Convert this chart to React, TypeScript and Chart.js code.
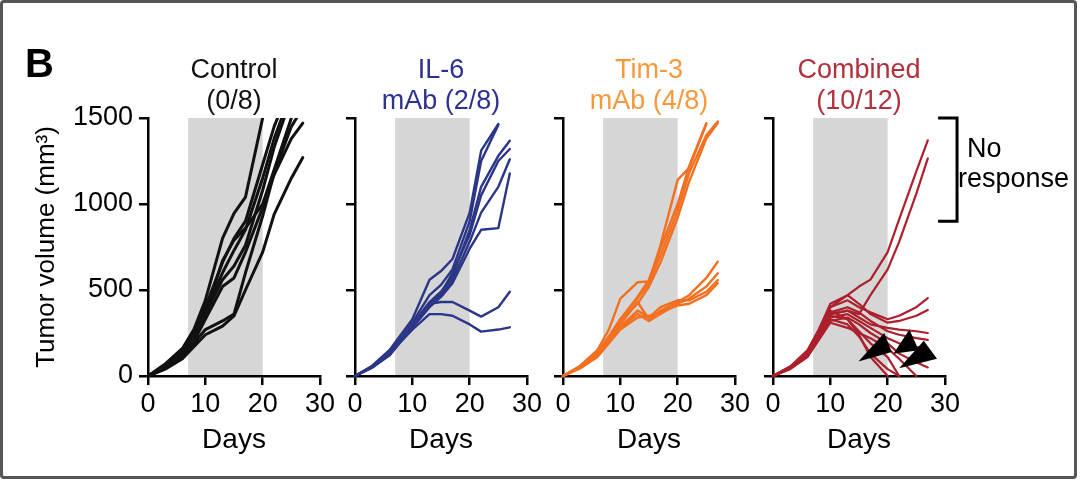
import React, { useEffect, useRef } from "react";
import { Chart, registerables } from "chart.js";

Chart.register(...registerables);

// ---------- data ----------
const DAYS = [0, 3, 6, 8, 10, 13, 15, 17, 20, 22, 25, 27];
const X_TICKS = [0, 10, 20, 30];
const Y_TICKS = [0, 500, 1000, 1500];
const TREATMENT_WINDOW = [7, 20];

const CONTROL_SERIES: (number | null)[][] = [
  [0, 70, 160, 270, 440, 800, 945, 1040, 1500, null, null, null],
  [0, 60, 150, 250, 400, 660, 800, 900, 1230, 1450, 1700, null],
  [0, 55, 140, 240, 380, 600, 730, 850, 1150, 1380, 1650, null],
  [0, 50, 130, 230, 360, 560, 640, 760, 1080, 1330, 1620, null],
  [0, 50, 140, 240, 370, 670, 790, 860, 1000, 1200, 1500, null],
  [0, 45, 120, 200, 330, 520, 570, 720, 980, 1170, 1380, 1470],
  [0, 40, 100, 170, 240, 290, 350, 500, 720, 940, 1150, 1270],
  [0, 45, 115, 190, 270, 320, 360, 600, 930, 1180, 1450, 1560],
];

const IL6_SERIES: (number | null)[][] = [
  [0, 60, 150, 240, 330, 560, 610, 680, 950, 1310, 1465, null],
  [0, 55, 140, 220, 310, 470, 530, 620, 900, 1250, 1460, null],
  [0, 50, 125, 205, 300, 430, 490, 580, 850, 1100, 1280, 1368],
  [0, 55, 130, 210, 290, 410, 470, 560, 780, 950, 1100, 1260],
  [0, 50, 120, 200, 280, 400, 460, 540, 740, 850, 860, 1178],
  [0, 50, 125, 205, 295, 420, 480, 600, 820, 1050, 1250, 1320],
  [0, 50, 120, 200, 270, 360, 360, 350, 300, 258, 270, 283],
  [0, 55, 130, 210, 300, 420, 430, 430, 380, 345, 400, 490],
];

const TIM3_SERIES: (number | null)[][] = [
  [0, 60, 150, 270, 450, 545, 550, 760, 1140, 1210, 1465, null],
  [0, 55, 140, 230, 330, 450, 540, 700, 960, 1180, 1400, 1480],
  [0, 50, 130, 220, 320, 420, 520, 660, 920, 1130, 1380, 1470],
  [0, 55, 135, 225, 330, 460, 560, 740, 1000, 1220, 1470, null],
  [0, 50, 125, 210, 300, 430, 330, 380, 430, 470, 570, 665],
  [0, 45, 115, 200, 280, 360, 320, 360, 420, 450, 520, 597],
  [0, 50, 120, 195, 285, 380, 340, 400, 440, 440, 490, 558],
  [0, 45, 110, 190, 270, 340, 350, 370, 410, 420, 470, 540],
];

const COMBINED_SERIES: (number | null)[][] = [
  [0, 55, 150, 270, 400, 470, 520, 560, 720, 910, 1190, 1370],
  [0, 50, 140, 250, 360, 380, 360, 470, 620, 780, 1060, 1265],
  [0, 50, 130, 260, 400, 440, 400, 370, 330, 350, 400, 453],
  [0, 55, 140, 270, 420, 470, 420, 360, 310, 320, 350, 384],
  [0, 45, 120, 240, 360, 380, 340, 300, 280, 270, 260, 250],
  [0, 50, 130, 250, 370, 400, 370, 320, 260, 240, 220, 210],
  [0, 45, 115, 220, 340, 360, 320, 280, 220, 190, 170, 150],
  [0, 50, 125, 240, 350, 330, 260, 190, 110, 0, null, null],
  [0, 45, 120, 230, 330, 300, 230, 130, 40, 0, null, null],
  [0, 50, 135, 250, 380, 330, 240, 110, 0, null, null, null],
  [0, 40, 110, 210, 310, 280, 250, 220, 160, 100, 0, null],
  [0, 45, 115, 215, 320, 340, 300, 250, 190, 130, 80, 50],
];

const PANEL_TITLES = [
  ["Control", "(0/8)"],
  ["IL-6", "mAb (2/8)"],
  ["Tim-3", "mAb (4/8)"],
  ["Combined", "(10/12)"],
];
const TITLE_COLORS = ["#111111", "#2e3192", "#f5993c", "#b2303b"];
const LINE_COLORS = ["#111111", "#2c3686", "#f37021", "#ad1f2d"];
const LINE_WIDTHS = [3, 2.4, 2.4, 2.2];
const ALL_SERIES = [CONTROL_SERIES, IL6_SERIES, TIM3_SERIES, COMBINED_SERIES];

const Y_TITLE = "Tumor volume (mm\u00B3)";
const X_TITLE = "Days";
const PANEL_LETTER = "B";
const BRACKET_DAYS = [28.8, 32.1];
const BRACKET_RANGE = [900, 1500];
const BRACKET_TEXT = ["No", "response"];
// arrowheads (day, volume) in the combined panel
const ARROW_TRIANGLES = [
  [[14.9, 85], [19.4, 250], [20.7, 140]],
  [[21.0, 130], [23.8, 270], [25.4, 150]],
  [[22.0, 45], [26.3, 205], [28.6, 100]],
];

// ---------- layout ----------
const FONT = '"Liberation Sans", Arial, Helvetica, sans-serif';
const CANVAS_W = 460;
const CANVAS_H = 482;
const AREA_LEFT = 148;
const AREA_RIGHT = 320;
const AREA_TOP = 118;
const AREA_BOTTOM = 376;
const Y_AXIS_W = 100;
const X_AXIS_H = 40;
const PANEL_LEFTS = [0, 207, 415, 625];
const SHADE = "#d6d6d6";

function makeChart(canvas: HTMLCanvasElement, idx: number) {
  const series = ALL_SERIES[idx];
  const datasets = series.map((s) => ({
    data: DAYS.map((d, i) => ({ x: d, y: s[i] })),
    borderColor: LINE_COLORS[idx],
    borderWidth: LINE_WIDTHS[idx],
    pointRadius: 0,
    tension: 0,
    fill: false,
    borderJoinStyle: "round" as const,
    borderCapStyle: "round" as const,
    clip: { left: 10, top: 0, right: 10, bottom: 10 },
  }));

  const decor = {
    id: "decor" + idx,
    beforeDraw(chart: any) {
      const { ctx, scales } = chart;
      const x = scales.x, y = scales.y;
      const x0 = x.getPixelForValue(TREATMENT_WINDOW[0]);
      const x1 = x.getPixelForValue(TREATMENT_WINDOW[1]);
      const y0 = y.getPixelForValue(Y_TICKS[Y_TICKS.length - 1]);
      const y1 = y.getPixelForValue(0);
      ctx.save();
      ctx.fillStyle = SHADE;
      ctx.fillRect(x0, y0, x1 - x0, y1 - y0 - 1);
      ctx.restore();
    },
    afterDraw(chart: any) {
      const { ctx, chartArea, scales } = chart;
      const x = scales.x, y = scales.y;
      const cx = (chartArea.left + chartArea.right) / 2;
      ctx.save();
      ctx.textAlign = "center";
      ctx.textBaseline = "alphabetic";
      ctx.fillStyle = TITLE_COLORS[idx];
      ctx.font = `27px ${FONT}`;
      ctx.fillText(PANEL_TITLES[idx][0], cx, chartArea.top - 40);
      ctx.fillText(PANEL_TITLES[idx][1], cx, chartArea.top - 9);
      ctx.fillStyle = "#000";
      ctx.font = `28px ${FONT}`;
      ctx.fillText(X_TITLE, cx, chartArea.bottom + 72);

      if (idx === 0) {
        ctx.font = `bold 40px ${FONT}`;
        ctx.textAlign = "left";
        ctx.fillText(PANEL_LETTER, chartArea.left - 123, chartArea.top - 41);
        ctx.save();
        ctx.translate(chartArea.left - 101, (chartArea.top + chartArea.bottom) / 2);
        ctx.rotate(-Math.PI / 2);
        ctx.textAlign = "center";
        ctx.textBaseline = "middle";
        ctx.font = `26px ${FONT}`;
        ctx.fillText(Y_TITLE, 0, 0);
        ctx.restore();
      }

      if (idx === 3) {
        // arrowheads
        ctx.fillStyle = "#000";
        ARROW_TRIANGLES.forEach((tri) => {
          ctx.beginPath();
          tri.forEach(([d, v], k) => {
            const px = x.getPixelForValue(d);
            const py = y.getPixelForValue(v);
            if (k === 0) ctx.moveTo(px, py);
            else ctx.lineTo(px, py);
          });
          ctx.closePath();
          ctx.fill();
        });
        // bracket
        const bx0 = x.getPixelForValue(BRACKET_DAYS[0]);
        const bx1 = x.getPixelForValue(BRACKET_DAYS[1]);
        const by0 = y.getPixelForValue(BRACKET_RANGE[1]);
        const by1 = y.getPixelForValue(BRACKET_RANGE[0]);
        ctx.strokeStyle = "#000";
        ctx.lineWidth = 3;
        ctx.beginPath();
        ctx.moveTo(bx0, by0);
        ctx.lineTo(bx1, by0);
        ctx.lineTo(bx1, by1);
        ctx.lineTo(bx0, by1);
        ctx.stroke();
        ctx.textAlign = "left";
        ctx.font = `27px ${FONT}`;
        ctx.fillText(BRACKET_TEXT[0], bx1 + 10, by0 + 39);
        ctx.fillText(BRACKET_TEXT[1], bx1 + 1, by0 + 69);
      }
      ctx.restore();
    },
  };

  return new Chart(canvas, {
    type: "line",
    data: { datasets },
    options: {
      responsive: false,
      animation: false,
      events: [],
      layout: {
        padding: {
          left: AREA_LEFT - Y_AXIS_W,
          right: CANVAS_W - AREA_RIGHT,
          top: AREA_TOP,
          bottom: CANVAS_H - AREA_BOTTOM - X_AXIS_H,
        },
      },
      plugins: { legend: { display: false }, tooltip: { enabled: false }, title: { display: false } },
      scales: {
        x: {
          type: "linear",
          min: X_TICKS[0],
          max: X_TICKS[X_TICKS.length - 1],
          afterFit: (s: any) => { s.height = X_AXIS_H; },
          afterBuildTicks: (s: any) => { s.ticks = X_TICKS.map((v) => ({ value: v })); },
          ticks: {
            color: "#000",
            font: { family: FONT, size: 27 },
            padding: 3,
            maxRotation: 0,
            callback: (v: any) => String(v),
          },
          grid: { drawOnChartArea: false, drawTicks: true, tickLength: 9, color: "#000", lineWidth: 2.5 },
          border: { display: true, color: "#000", width: 2.5 },
        },
        y: {
          type: "linear",
          min: Y_TICKS[0],
          max: Y_TICKS[Y_TICKS.length - 1],
          afterFit: (s: any) => { s.width = Y_AXIS_W; },
          afterBuildTicks: (s: any) => { s.ticks = Y_TICKS.map((v) => ({ value: v })); },
          ticks: {
            display: idx === 0,
            color: "#000",
            font: { family: FONT, size: 27 },
            padding: 6,
            callback: (v: any) => String(v),
          },
          grid: { drawOnChartArea: false, drawTicks: true, tickLength: 9, color: "#000", lineWidth: 2.5 },
          border: { display: true, color: "#000", width: 2.5 },
        },
      },
    } as any,
    plugins: [decor],
  });
}

function Panel({ idx }: { idx: number }) {
  const ref = useRef<HTMLCanvasElement>(null);
  useEffect(() => {
    const chart = makeChart(ref.current!, idx);
    return () => chart.destroy();
  }, [idx]);
  return (
    <canvas
      ref={ref}
      width={CANVAS_W}
      height={CANVAS_H}
      style={{ position: "absolute", left: PANEL_LEFTS[idx], top: 0, width: CANVAS_W, height: CANVAS_H }}
    />
  );
}

export default function App() {
  return (
    <div
      style={{
        position: "fixed",
        left: 0,
        top: 0,
        width: 1080,
        height: 482,
        background: "#fff",
        overflow: "hidden",
      }}
    >
      {[0, 1, 2, 3].map((i) => (
        <Panel key={i} idx={i} />
      ))}
      <div
        style={{
          position: "absolute",
          left: 0,
          top: 0,
          width: 1077,
          height: 479,
          boxSizing: "border-box",
          border: "3px solid #555",
          borderRadius: 4,
          pointerEvents: "none",
        }}
      />
    </div>
  );
}
